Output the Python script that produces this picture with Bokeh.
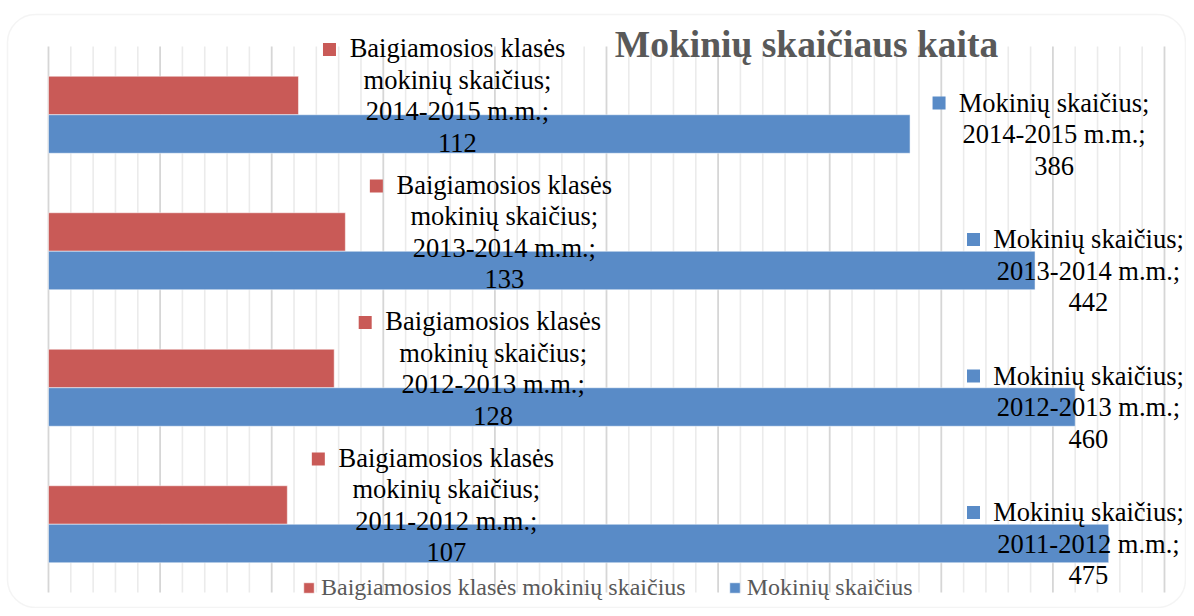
import numpy as np
from bokeh.plotting import figure
from bokeh.models import Range1d, ColumnDataSource, Label, Legend, LegendItem, BoxAnnotation
from bokeh.core.properties import value
from bokeh.embed import file_html
from bokeh.resources import INLINE

# ---------------- data ----------------
title_text = "Mokinių skaičiaus kaita"
categories = ["2011-2012 m.m.", "2012-2013 m.m.", "2013-2014 m.m.", "2014-2015 m.m."]
series_names = ["Baigiamosios klasės mokinių skaičius", "Mokinių skaičius"]
graduating = [107, 128, 133, 112]
students = [475, 460, 442, 386]
x_max = 500
major_step = 50
minor_step = 10

# ---------------- layout (pixels) ----------------
W, H = 1186, 608
PL, PR = 48, 1164      # screen x of 0 and x_max
PT, PB = 46, 592       # screen y (from top) of category area
BAR_PX = 38.5
n = len(categories)
ppu = (PR - PL) / x_max
x_start = -PL / ppu
x_end = x_max + (W - PR) / ppu
py = (PB - PT) / n
y_start = -0.5 - (H - PB) / py
y_end = n - 0.5 + PT / py
bh = BAR_PX / py

RED = "#C95A57"
BLUE = "#598BC7"
FONT = "Liberation Serif"

p = figure(width=W, height=H, x_range=Range1d(x_start, x_end), y_range=Range1d(y_start, y_end),
           output_backend="svg", toolbar_location=None, min_border=0,
           x_axis_location=None, y_axis_location=None)
p.grid.visible = False
p.outline_line_color = None
p.background_fill_color = "white"
p.border_fill_color = "white"

# gridlines
ticks = np.arange(0, x_max + 1, minor_step)
minor = [t for t in ticks if t % major_step != 0]
major = [t for t in ticks if t % major_step == 0]
p.segment(x0=minor, y0=-0.5, x1=minor, y1=n - 0.5, line_color="#ebebeb", line_width=1.6)
p.segment(x0=major, y0=-0.5, x1=major, y1=n - 0.5, line_color="#d6d6d6", line_width=1.8)

idx = np.arange(n)
red_y = idx + bh / 2
blue_y = idx - bh / 2

src_red = ColumnDataSource(dict(y=red_y, v=graduating))
src_blue = ColumnDataSource(dict(y=blue_y, v=students))
r_red = p.hbar(y="y", right="v", left=0, height=bh, source=src_red, fill_color=RED,
               line_color="white", line_alpha=0.5, line_width=1)
r_blue = p.hbar(y="y", right="v", left=0, height=bh, source=src_blue, fill_color=BLUE,
                line_color="white", line_alpha=0.5, line_width=1)

# data labels
red_lx = np.array(graduating) + 159 / ppu
red_text = [f"Baigiamosios klasės\nmokinių skaičius;\n{c};\n{v}" for c, v in zip(categories, graduating)]
blue_lx = np.minimum(np.array(students) + 144 / ppu, (1088 - PL) / ppu)
blue_text = [f"Mokinių skaičius;\n{c};\n{v}" for c, v in zip(categories, students)]

p.text(x=red_lx, y=red_y, text=red_text, text_align="center", text_baseline="middle",
       text_font=value(FONT), text_font_size="26.5px", text_line_height=1.05, text_color="black")
p.text(x=blue_lx, y=blue_y, text=blue_text, text_align="center", text_baseline="middle",
       text_font=value(FONT), text_font_size="26.5px", text_line_height=1.05, text_color="black")

# legend keys in labels
p.rect(x=red_lx - 128 / ppu, y=red_y + 46 / py, width=13, height=13, width_units="screen",
       height_units="screen", fill_color=RED, line_color=None)
p.rect(x=blue_lx - 115 / ppu, y=blue_y + 31 / py, width=13, height=13, width_units="screen",
       height_units="screen", fill_color=BLUE, line_color=None)

# title
p.add_layout(Label(x=806, y=H - 44, x_units="screen", y_units="screen", text=title_text,
                   text_align="center", text_baseline="middle", text_font=FONT,
                   text_font_size="37.5px", text_font_style="bold", text_color="#595959"))

# legend
legend = Legend(items=[LegendItem(label=series_names[0], renderers=[r_red]),
                       LegendItem(label=series_names[1], renderers=[r_blue])],
                orientation="horizontal", location=(302, 7), glyph_width=13, glyph_height=13,
                label_standoff=6, spacing=42, padding=0, margin=0, border_line_color=None,
                background_fill_alpha=0, label_text_font=FONT, label_text_font_size="24px",
                label_text_color="#595959")
p.add_layout(legend)

# chart border
p.add_layout(BoxAnnotation(left=7, right=W - 1, bottom=1, top=H - 14, left_units="screen",
                           right_units="screen", bottom_units="screen", top_units="screen",
                           fill_color=None, line_color="#d9d9d9", line_width=1.5, border_radius=28))

open("out.html", "w").write(file_html(p, INLINE))
